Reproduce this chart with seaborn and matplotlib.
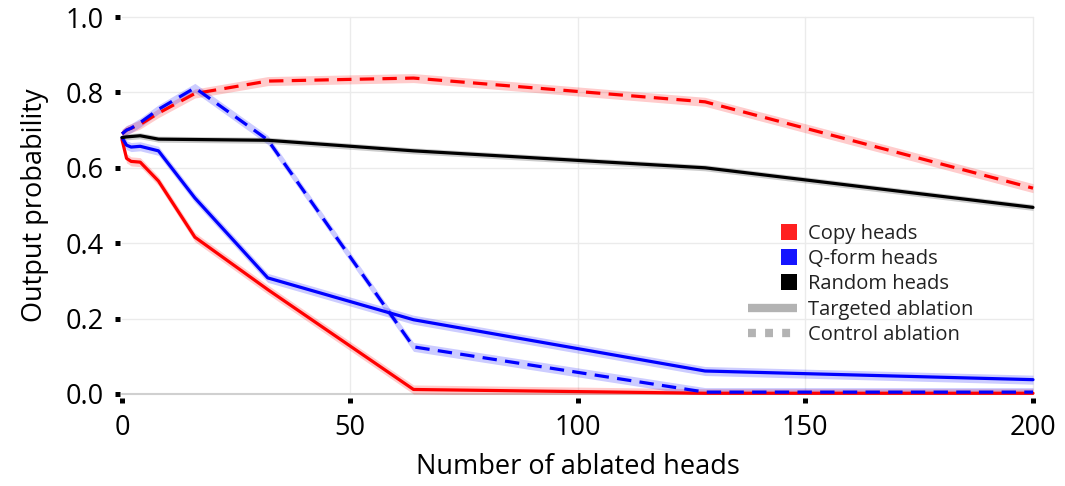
import numpy as np
import pandas as pd
import matplotlib
matplotlib.use("Agg")
import matplotlib.pyplot as plt
from matplotlib.lines import Line2D
from matplotlib.legend_handler import HandlerLine2D
import seaborn as sns

# ---------------- data ----------------
n_heads = [0, 1, 2, 4, 8, 16, 32, 64, 128, 200]

copy_targeted = [0.675, 0.625, 0.617, 0.615, 0.565, 0.416, 0.277, 0.012, 0.002, 0.002]
copy_control = [0.69, 0.70, 0.705, 0.715, 0.745, 0.797, 0.830, 0.838, 0.775, 0.546]
qform_targeted = [0.68, 0.66, 0.655, 0.657, 0.645, 0.52, 0.308, 0.197, 0.061, 0.038]
qform_control = [0.69, 0.70, 0.705, 0.72, 0.755, 0.812, 0.674, 0.125, 0.005, 0.005]
random_targeted = [0.68, 0.682, 0.683, 0.685, 0.676, 0.675, 0.673, 0.645, 0.600, 0.495]

ci_copy = 0.012
ci_qform = 0.012
ci_random = 0.008

groups = ["Copy heads", "Q-form heads", "Random heads"]
ablations = ["Targeted ablation", "Control ablation"]
colors = {"Copy heads": "#ff0000", "Q-form heads": "#0000ff", "Random heads": "#000000"}
legend_labels = ["Copy heads", "Q-form heads", "Random heads", "Targeted ablation", "Control ablation"]

series = [
    ("Copy heads", "Targeted ablation", copy_targeted, ci_copy),
    ("Copy heads", "Control ablation", copy_control, ci_copy),
    ("Q-form heads", "Targeted ablation", qform_targeted, ci_qform),
    ("Q-form heads", "Control ablation", qform_control, ci_qform),
    ("Random heads", "Targeted ablation", random_targeted, ci_random),
]

rows = []
for g, a, vals, ci in series:
    for x, v in zip(n_heads, vals):
        rows.append({"heads": x, "prob": v, "group": g, "ablation": a})
df = pd.DataFrame(rows)

# ---------------- style ----------------
sns.set_theme(style="white")
plt.rcParams["font.family"] = ["Open Sans", "DejaVu Sans"]

fig = plt.figure(figsize=(10.65, 4.86), dpi=100)
ax = fig.add_axes([122 / 1065, 1 - 394 / 486, (1033 - 122) / 1065, (394 - 17) / 486])

# grid
for yv in [0.2, 0.4, 0.6, 0.8, 1.0]:
    ax.axhline(yv, color="#ebebeb", lw=1.0, zorder=0)
for xv in [50, 100, 150, 200]:
    ax.axvline(xv, color="#ebebeb", lw=1.0, zorder=0)
ax.axhline(0, color="#d0d0d0", lw=1.5, zorder=0.5)

# confidence bands
for g, a, vals, ci in series:
    v = np.array(vals)
    ax.fill_between(n_heads, v - ci, v + ci, color=colors[g], alpha=0.2, lw=0, zorder=1)

sns.lineplot(
    data=df, x="heads", y="prob", hue="group", style="ablation",
    palette=colors, hue_order=groups, style_order=ablations,
    dashes={"Targeted ablation": "", "Control ablation": (4.5, 2.6)},
    linewidth=2.3, legend=False, ax=ax, zorder=2, estimator=None,
)
for ln in ax.lines:
    ln.set_clip_on(False)

ax.set_xlim(0, 200)
ax.set_ylim(0, 1.0)
ax.set_xticks([0, 50, 100, 150, 200])
ax.set_yticks([0, 0.2, 0.4, 0.6, 0.8, 1.0])
ax.set_yticklabels(["0.0", "0.2", "0.4", "0.6", "0.8", "1.0"])

for s in ax.spines.values():
    s.set_visible(False)
ax.spines["left"].set_position(("outward", 1.5))
ax.spines["bottom"].set_position(("outward", 3.0))

ax.tick_params(axis="both", which="major", direction="out", length=3.6, width=3.6,
               color="black", labelsize=19.5, labelcolor="black",
               bottom=True, left=True)
ax.tick_params(axis="y", pad=8)
ax.tick_params(axis="x", pad=8)

ax.set_xlabel("Number of ablated heads", fontsize=19.5, color="black", labelpad=8)
ax.set_ylabel("Output probability", fontsize=19.5, color="black", labelpad=12)


# legend: squares drawn at the right end of the handle
class RightSquareHandler(HandlerLine2D):
    def create_artists(self, legend, orig_handle, xdescent, ydescent, width, height, fontsize, trans):
        ms = orig_handle.get_markersize()
        x = width - xdescent - ms * 0.55
        y = height / 2 - ydescent
        art = Line2D([x], [y], marker="s", markersize=ms, lw=0,
                     color=orig_handle.get_color(), markeredgewidth=0)
        art.set_transform(trans)
        return [art]


sq_handles = [
    Line2D([], [], color="#ff2020", marker="s", markersize=11, lw=0),
    Line2D([], [], color="#1515ff", marker="s", markersize=11, lw=0),
    Line2D([], [], color="#000000", marker="s", markersize=11, lw=0),
]
line_handles = [
    Line2D([], [], color="#b3b3b3", lw=6, solid_capstyle="butt"),
    Line2D([], [], color="#b3b3b3", lw=6, linestyle=(0, (0.95, 1.1)), dash_capstyle="butt"),
]
handles = sq_handles + line_handles
hmap = {h: RightSquareHandler() for h in sq_handles}
leg = fig.legend(handles, legend_labels, loc="upper left",
                 bbox_to_anchor=(748 / 1065, 1 - 224 / 486),
                 frameon=False, fontsize=14.5, handlelength=2.45, handletextpad=0.55,
                 labelspacing=0.26, borderpad=0, borderaxespad=0, handler_map=hmap)
for t in leg.get_texts():
    t.set_color("#222222")

fig.savefig("out.png", dpi=100)
